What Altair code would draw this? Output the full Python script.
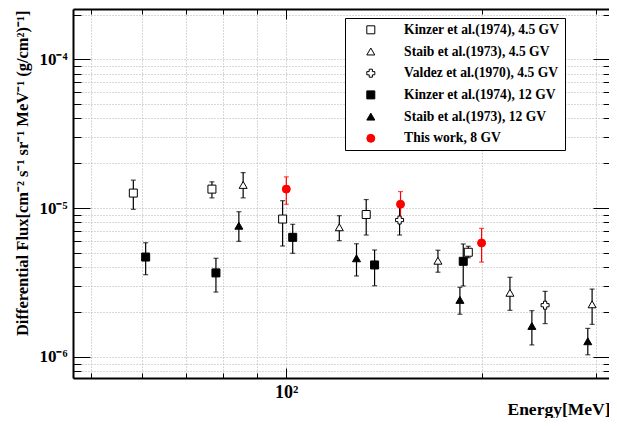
import altair as alt
import pandas as pd

FONT = "Liberation Serif"

series_names = [
    "Kinzer et al.(1974), 4.5 GV",
    "Staib et al.(1973), 4.5 GV",
    "Valdez et al.(1970), 4.5 GV",
    "Kinzer et al.(1974), 12 GV",
    "Staib et al.(1973), 12 GV",
    "This work, 8 GV",
]
series_shapes = ["square", "triangle-up", "cross", "square", "triangle-up", "circle"]
series_fills = ["white", "white", "white", "black", "black", "#ff0000"]
series_strokes = ["black", "black", "black", "black", "black", "#ff0000"]
series_sizes = [64, 64, 70, 64, 64, 50]

# Kinzer et al.(1974), 4.5 GV
kinzer45_E = [58.1, 76.8, 98.7, 132.8, 190.8]
kinzer45_F = [1.26e-5, 1.34e-5, 8.43e-6, 9.04e-6, 5.04e-6]
kinzer45_lo = [9.8e-6, 1.17e-5, 5.55e-6, 6.58e-6, 4.63e-6]
kinzer45_hi = [1.54e-5, 1.50e-5, 1.12e-5, 1.14e-5, 5.53e-6]

# Staib et al.(1973), 4.5 GV
staib45_E = [85.8, 120.7, 171.3, 221.2, 296.1]
staib45_F = [1.43e-5, 7.42e-6, 4.42e-6, 2.69e-6, 2.25e-6]
staib45_lo = [1.17e-5, 6.03e-6, 3.70e-6, 2.05e-6, 1.65e-6]
staib45_hi = [1.73e-5, 8.88e-6, 5.20e-6, 3.42e-6, 2.85e-6]

# Valdez et al.(1970), 4.5 GV
valdez_E = [149.5, 250.6]
valdez_F = [8.3e-6, 2.22e-6]
valdez_lo = [6.58e-6, 1.67e-6]
valdez_hi = [1.03e-5, 2.75e-6]

# Kinzer et al.(1974), 12 GV
kinzer12_E = [60.7, 77.9, 102.3, 136.8, 187.4]
kinzer12_F = [4.68e-6, 3.66e-6, 6.35e-6, 4.14e-6, 4.38e-6]
kinzer12_lo = [3.56e-6, 2.72e-6, 4.96e-6, 3.00e-6, 2.99e-6]
kinzer12_hi = [5.84e-6, 4.59e-6, 7.77e-6, 5.22e-6, 5.73e-6]

# Staib et al.(1973), 12 GV
staib12_E = [84.5, 128.3, 185.2, 239.1, 291.6]
staib12_F = [7.6e-6, 4.59e-6, 2.41e-6, 1.61e-6, 1.27e-6]
staib12_lo = [5.97e-6, 3.49e-6, 1.93e-6, 1.20e-6, 1.03e-6]
staib12_hi = [9.44e-6, 5.75e-6, 2.93e-6, 2.04e-6, 1.55e-6]

# This work, 8 GV
this_E = [100, 150, 200]
this_F = [1.34e-5, 1.06e-5, 5.82e-6]
this_lo = [1.06e-5, 8.5e-6, 4.33e-6]
this_hi = [1.62e-5, 1.29e-5, 7.3e-6]

x_domain = [46.9, 314.4]
y_domain = [7.19e-7, 2.18e-4]

x_ticks = [50, 60, 70, 80, 90, 100, 200, 300]
x_tick_labels = ["", "", "", "", "", "10²", "", ""]
x_major = [100]

y_ticks = [8e-7, 9e-7, 1e-6, 2e-6, 3e-6, 4e-6, 5e-6, 6e-6, 7e-6, 8e-6, 9e-6,
           1e-5, 2e-5, 3e-5, 4e-5, 5e-5, 6e-5, 7e-5, 8e-5, 9e-5, 1e-4, 2e-4]
y_tick_labels = ["", "", "10⁻⁶", "", "", "", "", "", "", "", "",
                 "10⁻⁵", "", "", "", "", "", "", "", "", "10⁻⁴", ""]
y_major = [1e-6, 1e-5, 1e-4]

x_title = "Energy[MeV]"
y_title = "Differential Flux[cm⁻² s⁻¹ sr⁻¹ MeV⁻¹ (g/cm²)⁻¹]"

W, H = 536, 369

groups = [
    (series_names[0], kinzer45_E, kinzer45_F, kinzer45_lo, kinzer45_hi),
    (series_names[1], staib45_E, staib45_F, staib45_lo, staib45_hi),
    (series_names[2], valdez_E, valdez_F, valdez_lo, valdez_hi),
    (series_names[3], kinzer12_E, kinzer12_F, kinzer12_lo, kinzer12_hi),
    (series_names[4], staib12_E, staib12_F, staib12_lo, staib12_hi),
    (series_names[5], this_E, this_F, this_lo, this_hi),
]
df = pd.concat(
    [pd.DataFrame({"E": e, "F": f, "lo": lo, "hi": hi, "series": n}) for n, e, f, lo, hi in groups],
    ignore_index=True,
)


def label_expr(vals, labels):
    parts = [f"datum.value == {v!r} ? '{l}'" for v, l in zip(vals, labels) if l]
    return " : ".join(parts) + " : ''"


def major_test(vals):
    return " || ".join(f"datum.value == {v!r}" for v in vals)


xs = alt.Scale(type="log", domain=x_domain, nice=False)
ys = alt.Scale(type="log", domain=y_domain, nice=False)

x_main = alt.Axis(
    values=x_ticks, labelExpr=label_expr(x_ticks, x_tick_labels), ticks=False,
    grid=True, gridDash=[1, 2], gridColor="#b0b0b0", gridWidth=1,
    domain=True, domainColor="black", domainWidth=2,
    labelFont=FONT, labelFontWeight="bold", labelFontSize=18, labelColor="black",
    labelPadding=5, labelOverlap=False, labelFlush=False, labelBaseline="top",
    title=x_title, titleFont=FONT, titleFontWeight="bold", titleFontSize=17.5,
    titleColor="black", titleAlign="right", titleAnchor="end", titleX=W + 1, titleY=36,
    titleBaseline="alphabetic",
)
y_main = alt.Axis(
    values=y_ticks, labelExpr=label_expr(y_ticks, y_tick_labels), ticks=False,
    grid=True, gridDash=[1, 2], gridColor="#b0b0b0", gridWidth=1,
    domain=True, domainColor="black", domainWidth=2,
    labelFont=FONT, labelFontWeight="bold", labelFontSize=17, labelColor="black",
    labelPadding=6, labelOverlap=False, labelFlush=False,
    title=y_title, titleFont=FONT, titleFontWeight="bold", titleFontSize=16.5,
    titleColor="black", titleAngle=-90, titleAlign="right", titleBaseline="middle",
    titleX=-51, titleY=1,
)


def tick_axis(vals, majors, orient, offset, major_len, minor_len, domain=False):
    kw = dict(
        values=vals, orient=orient, offset=offset, labels=False, grid=False,
        ticks=True, tickColor="black", tickWidth=1,
        tickSize={"condition": {"test": major_test(majors), "value": major_len}, "value": minor_len},
        title=None,
    )
    if domain:
        kw.update(domain=True, domainColor="black", domainWidth=2)
    else:
        kw.update(domain=False)
    return alt.Axis(**kw)


base = alt.Chart(df)

err_color = alt.condition(alt.datum.series == series_names[5], alt.value("#ff0000"), alt.value("black"))

rules = base.mark_rule(strokeWidth=1.2).encode(
    x=alt.X("E:Q", scale=xs, axis=x_main),
    y=alt.Y("lo:Q", scale=ys, axis=y_main),
    y2="hi:Q",
    stroke=err_color,
)
cap_lo = base.mark_tick(orient="horizontal", size=5, thickness=1.2).encode(
    x=alt.X("E:Q", scale=xs, axis=x_main),
    y=alt.Y("lo:Q", scale=ys, axis=y_main),
    color=err_color,
)
cap_hi = base.mark_tick(orient="horizontal", size=5, thickness=1.2).encode(
    x=alt.X("E:Q", scale=xs, axis=x_main),
    y=alt.Y("hi:Q", scale=ys, axis=y_main),
    color=err_color,
)

legend = alt.Legend(
    title=None, orient="none", legendX=272, legendY=9, direction="vertical",
    strokeColor="black", fillColor="white", padding=5, cornerRadius=0,
    symbolOffset=14, labelOffset=26.5, rowPadding=6.7,
    labelFont=FONT, labelFontWeight="bold", labelFontSize=13.6, labelColor="black",
    labelLimit=400, symbolStrokeWidth=1,
    labelExpr="datum.label + '\u00a0\u00a0\u00a0'",
)
points = base.mark_point(filled=True, opacity=1, strokeWidth=1).encode(
    x=alt.X("E:Q", scale=xs, axis=x_main),
    y=alt.Y("F:Q", scale=ys, axis=y_main),
    shape=alt.Shape("series:N", scale=alt.Scale(domain=series_names, range=series_shapes), legend=legend, sort=series_names),
    fill=alt.Fill("series:N", scale=alt.Scale(domain=series_names, range=series_fills), legend=legend, sort=series_names),
    stroke=alt.Stroke("series:N", scale=alt.Scale(domain=series_names, range=series_strokes), legend=legend, sort=series_names),
    size=alt.Size("series:N", scale=alt.Scale(domain=series_names, range=series_sizes), legend=legend, sort=series_names),
)

data_layer = alt.layer(rules, cap_lo, cap_hi, points)

ticks_a = base.mark_point(opacity=0).encode(
    x=alt.X("E:Q", scale=xs, axis=tick_axis(x_ticks, x_major, "top", -H, 10, 5)),
    y=alt.Y("F:Q", scale=ys, axis=tick_axis(y_ticks, y_major, "right", -W, 17, 8)),
)
ticks_b = base.mark_point(opacity=0).encode(
    x=alt.X("E:Q", scale=xs, axis=tick_axis(x_ticks, x_major, "bottom", -H, 10, 5, domain=True)),
    y=alt.Y("F:Q", scale=ys, axis=tick_axis(y_ticks, y_major, "left", -W, 16, 6)),
)

chart = (
    alt.layer(data_layer, ticks_a, ticks_b)
    .resolve_axis(x="independent", y="independent")
    .properties(
        width=W, height=H,
        padding={"left": 65, "top": 1, "right": 0, "bottom": 40},
        autosize=alt.AutoSizeParams(type="none"),
        background="white",
    )
    .configure_view(stroke=None)
)

chart.save("out.html", embed_options={"renderer": "svg", "actions": False})
